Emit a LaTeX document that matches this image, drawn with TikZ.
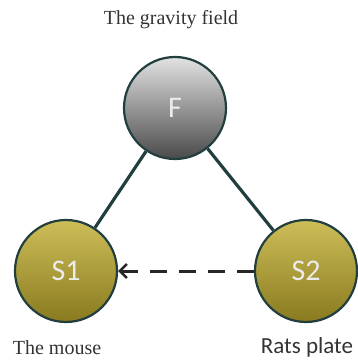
\documentclass[tikz,border=0pt]{standalone}
\usepackage{fontspec}
\setmainfont{Liberation Serif}
\newfontfamily\nodefont{Carlito}
\usetikzlibrary{arrows.meta}
\definecolor{edgec}{HTML}{223F3F}
\definecolor{graytop}{HTML}{E2E2E2}
\definecolor{graybot}{HTML}{4A4A4A}
\definecolor{olivetop}{HTML}{CDBE58}
\definecolor{olivebot}{HTML}{8A7A20}
\tikzset{
  ball/.style={circle, draw=edgec, line width=2.2pt, minimum size=102pt, inner sep=0pt,
    text=white!92!black, font=\nodefont\fontsize{30}{30}\selectfont},
  grayball/.style={ball, top color=graytop, bottom color=graybot},
  oliveball/.style={ball, top color=olivetop, bottom color=olivebot},
  link/.style={draw=edgec, line width=3.2pt},
  lbl/.style={font=\fontsize{20}{20}\selectfont, text=black!80},
}
\begin{document}
\begin{tikzpicture}[x=1pt,y=-1pt]
\useasboundingbox (0,0) rectangle (357,363);
\node[grayball] (F) at (175,108) {F};
\node[oliveball] (S1) at (66,271) {S1};
\node[oliveball] (S2) at (306,271) {S2};
\draw[link] (F) -- (S1);
\draw[link] (F) -- (S2);
\draw[draw=black!85, line width=3pt, dash pattern=on 17pt off 12pt, -{Straight Barb[length=7pt,width=14pt,line width=2.5pt]}] (S2) -- (S1);
\node[lbl] (tg) at (171,20) {The gravity field};
\node[lbl] (tm) at (57,348) {The mouse};
\node[lbl, font=\nodefont\fontsize{23}{23}\selectfont] (tr) at (307,347) {Rats plate};
\end{tikzpicture}
\end{document}
